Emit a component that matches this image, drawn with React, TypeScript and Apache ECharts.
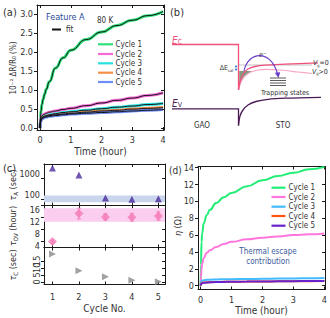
import React, { useEffect, useRef } from 'react';
import * as echarts from 'echarts';

const FONT = "'Liberation Sans Narrow', 'DejaVu Sans Condensed', 'Liberation Sans', sans-serif";
const AX = '#1a1a1a';
const TX = '#333';

// ---------- Panel (a) ----------
const timeA = [0, 0.01, 0.03, 0.06, 0.1, 0.15, 0.2, 0.3, 0.5, 0.75, 1, 1.5, 2, 2.5, 3, 3.5, 4];
const a1 = [0, 0.25, 0.45, 0.62, 0.76, 0.9, 1.02, 1.22, 1.58, 1.85, 2.05, 2.33, 2.53, 2.7, 2.84, 2.96, 3.07];
const a2 = [0, 0.2, 0.28, 0.32, 0.35, 0.37, 0.39, 0.42, 0.45, 0.49, 0.52, 0.59, 0.66, 0.73, 0.79, 0.86, 0.93];
const a3 = [0, 0.15, 0.24, 0.28, 0.3, 0.32, 0.33, 0.35, 0.38, 0.41, 0.43, 0.47, 0.51, 0.55, 0.58, 0.62, 0.65];
const a4 = [0, 0.14, 0.22, 0.26, 0.28, 0.3, 0.31, 0.33, 0.35, 0.37, 0.39, 0.42, 0.45, 0.47, 0.5, 0.52, 0.54];
const a5 = [0, 0.13, 0.2, 0.24, 0.26, 0.28, 0.29, 0.31, 0.33, 0.35, 0.37, 0.39, 0.41, 0.43, 0.45, 0.47, 0.49];
const seriesA = [a1, a2, a3, a4, a5];
const cycleNames = ['Cycle 1', 'Cycle 2', 'Cycle 3', 'Cycle 4', 'Cycle 5'];
const colorsA = ['#2ee07a', '#f46ad6', '#2ae0e0', '#f5904a', '#6f8ef5'];
const xTicksA = [0, 1, 2, 3, 4];
const yTicksA = [0, 0.5, 1, 1.5, 2, 2.5, 3];

// ---------- Panel (c) ----------
const cycles = [1, 2, 3, 4, 5];
const tauA = [3000, 1400, 112, 100, 105];
const bandA = [72, 150];
const tauOV = [4, 13.3, 12.2, 12.1, 12.5];
const tauOVerr = [0.5, 1.8, 1.0, 1.3, 1.4];
const bandOV = [10.6, 15.1];
const tauC = [19.8, 8, 3.6, 1.2, 0.2];
const yTicksOV = [4, 8, 12, 16];
const yTicksC = [0, 5, 10, 15, 20];

// ---------- Panel (d) ----------
const timeD = [0, 0.01, 0.03, 0.05, 0.1, 0.2, 0.3, 0.5, 0.75, 1, 1.5, 2, 2.5, 3, 3.5, 4];
const d1 = [0, 2.5, 5.2, 6.2, 7.4, 8.4, 9.0, 9.8, 10.5, 11.0, 11.8, 12.5, 13.0, 13.4, 13.8, 14.1];
const d2 = [0, 1.0, 2.0, 2.6, 3.3, 3.9, 4.2, 4.6, 4.95, 5.2, 5.5, 5.7, 5.85, 6.0, 6.1, 6.2];
const d3 = [0, 0.4, 0.55, 0.6, 0.65, 0.7, 0.72, 0.75, 0.77, 0.78, 0.8, 0.82, 0.84, 0.86, 0.88, 0.9];
const d4 = [0, 0.2, 0.3, 0.33, 0.37, 0.4, 0.42, 0.44, 0.46, 0.47, 0.49, 0.5, 0.52, 0.53, 0.54, 0.55];
const d5 = [0, 0.15, 0.25, 0.3, 0.34, 0.38, 0.4, 0.43, 0.45, 0.47, 0.49, 0.5, 0.52, 0.54, 0.55, 0.57];
const seriesD = [d1, d2, d3, d4, d5];
const colorsD = ['#22ee77', '#ff77dd', '#44bbff', '#ff5511', '#6622cc'];
const xTicksD = [0, 1, 2, 3, 4];
const yTicksD = [0, 2, 4, 6, 8, 10, 12, 14];

const zip = (xs: number[], ys: number[]) => xs.map((x, i) => [x, ys[i]]);

function xAx(gridIndex: number, min: number, max: number, ticks: number[], o: any = {}) {
  const top = o.position === 'top';
  return {
    type: 'value', gridIndex, min, max, position: o.position || 'bottom',
    axisLine: { show: true, onZero: false, lineStyle: { color: AX, width: 1 } },
    axisTick: { show: true, inside: true, length: 3, customValues: ticks, lineStyle: { color: AX } },
    axisLabel: { show: !top && !o.hideLabel, customValues: ticks, fontSize: 9, fontFamily: FONT, color: TX, margin: o.margin ?? 5 },
    splitLine: { show: false },
    name: o.name, nameLocation: 'middle', nameGap: o.nameGap ?? 16,
    nameTextStyle: { fontSize: 10, fontFamily: FONT, color: TX },
  };
}

function yAx(gridIndex: number, min: number, max: number, ticks: number[] | null, o: any = {}) {
  const right = o.position === 'right';
  const tk: any = ticks ? { customValues: ticks } : {};
  return {
    type: o.type || 'value', gridIndex, min, max, position: o.position || 'left',
    logBase: 10,
    axisLine: { show: true, onZero: false, lineStyle: { color: AX, width: 1 } },
    axisTick: { show: true, inside: right, length: 3, ...tk, lineStyle: { color: AX } },
    axisLabel: { show: !right, ...tk, fontSize: 9, fontFamily: FONT, color: TX, margin: 4, ...(o.label || {}) },
    splitLine: { show: false },
  };
}

const T = (x: number, y: number, text: string, o: any = {}, extra: any = {}) => ({
  type: 'text', x, y, silent: true, z: 50, ...extra,
  style: { text, fontSize: 9, fontFamily: FONT, fill: TX, align: 'left', verticalAlign: 'middle', ...o },
});
const L = (x1: number, y1: number, x2: number, y2: number, stroke: string, lineWidth = 1) => ({
  type: 'line', silent: true, z: 50, shape: { x1, y1, x2, y2 }, style: { stroke, lineWidth },
});
const PL = (points: number[][], stroke: string, lineWidth = 1.3, smooth = 0) => ({
  type: 'polyline', silent: true, z: 50, shape: { points, smooth }, style: { stroke, lineWidth, fill: null },
});
const PG = (points: number[][], fill: string) => ({
  type: 'polygon', silent: true, z: 49, shape: { points }, style: { fill, stroke: null },
});

const richSub = (base: any) => ({
  i: { ...base, fontStyle: 'italic' },
  s: { ...base, fontSize: (base.fontSize || 9) - 3, verticalAlign: 'bottom', padding: [4, 0, 0, 0] },
  n: { ...base },
});

function buildGraphics() {
  const g: any[] = [];
  // panel labels
  g.push(T(3, 12, '(a)', { fontSize: 11 }));
  g.push(T(170, 12, '(b)', { fontSize: 11 }));
  g.push(T(3, 168, '(c)', { fontSize: 11 }));
  g.push(T(169, 170, '(d)', { fontSize: 10 }));

  // (a) annotations
  g.push(T(46, 17, 'Feature A', { fontSize: 9, fill: '#2a4a9a' }));
  g.push(L(52, 29.5, 61, 29.5, '#111', 2));
  g.push(T(66, 29.5, 'fit', { fontSize: 8 }));
  g.push(T(97, 20, '80 K', { fontSize: 8 }));
  const ysA = [44.3, 54, 63.3, 72.7, 82];
  cycleNames.forEach((n, i) => {
    g.push(L(98, ysA[i], 113, ysA[i], colorsA[i], 2.2));
    g.push(T(115.5, ysA[i], n, { fontSize: 8 }));
  });
  g.push(T(13, 68, '10⁻² ΔR/R₀ (%)', { fontSize: 8, align: 'center' }, { rotation: Math.PI / 2 }));

  // (c) axis names
  const bs = { fontSize: 9, fontFamily: FONT, fill: TX };
  const tauName = (y: number, sub: string, unit: string) =>
    T(13, y, `{i|τ}{s|${sub}}{n| (${unit})}`, { align: 'center', rich: richSub(bs) }, { rotation: Math.PI / 2 });
  g.push(tauName(185, 'A', 'sec'));
  g.push(tauName(226, 'OV', 'hour'));
  g.push(tauName(265, 'C', 'sec'));

  // (d)
  g.push(T(178, 226, '{i|η} {n|(Ω)}', { align: 'center', rich: richSub(bs) }, { rotation: Math.PI / 2 }));
  const ysD = [187.7, 197, 206.7, 216, 225.7];
  cycleNames.forEach((n, i) => {
    g.push(L(271.5, ysD[i], 285.5, ysD[i], colorsD[i], 2.2));
    g.push(T(288.5, ysD[i], n, { fontSize: 8 }));
  });
  g.push(T(268, 251.5, 'Thermal escape', { fontSize: 8, fill: '#3a5a9a', align: 'center' }));
  g.push(T(268, 261.5, 'contribution', { fontSize: 8, fill: '#3a5a9a', align: 'center' }));

  // (b) band diagram
  const pink = '#f0507a';
  const purple = '#4b1a55';
  g.push(T(172, 40, '{i|E}{s|C}', { rich: richSub({ fontSize: 10, fontFamily: FONT, fill: pink }) }));
  g.push(PL([[172, 44.5], [238.5, 44.5], [238.5, 90]], pink, 1.3));
  g.push(PG([[239.2, 71], [239.2, 88], [241, 82], [245, 76], [250, 72.3], [253, 71]], '#879a80'));
  g.push(PL([[238.5, 90], [241, 82], [245, 76], [251, 72], [258, 70], [266, 69.3], [280, 70], [298, 72], [312, 73.5]], '#f8a8c4', 1.2, 0.3));
  g.push(L(238.5, 65, 312, 65, '#9a9a9a', 0.6));
  g.push(PL([[238.5, 90], [240.5, 80], [243.5, 73.5], [248, 69], [255, 66.5], [265, 65.2], [285, 64.2], [318, 62.8]], pink, 1.3, 0.3));
  g.push(L(236, 66.5, 236, 69.5, '#3a7ad8', 0.8));
  g.push(PG([[236, 65], [234.6, 67], [237.4, 67]], '#3a7ad8'));
  g.push(PG([[236, 71], [234.6, 69], [237.4, 69]], '#3a7ad8'));
  g.push(T(233.5, 68, '{n|ΔE}{s|sat}', { align: 'right', rich: richSub({ fontSize: 7, fontFamily: FONT, fill: TX }) }));
  g.push({
    type: 'bezierCurve', silent: true, z: 51,
    shape: { x1: 244, y1: 71, cpx1: 248, cpy1: 51, cpx2: 271, cpy2: 49, x2: 277.5, y2: 74 },
    style: { stroke: '#6a3cc8', lineWidth: 1.1, fill: null },
  });
  g.push(PG([[278.5, 78], [274.8, 72.8], [280.2, 72.2]], '#6a3cc8'));
  g.push(T(259, 55, 'e⁻', { fontSize: 7, fontStyle: 'italic' }));
  [78, 80.5, 83, 85.5].forEach((y) => g.push(L(270, y, 286, y, '#333', 0.8)));
  g.push(T(285, 92.5, 'Trapping states', { fontSize: 7, align: 'center' }));
  g.push(T(313, 63, '{i|V}{s|g}{n|=0}', { rich: richSub({ fontSize: 7, fontFamily: FONT, fill: TX }) }));
  g.push(T(312, 71.5, '{i|V}{s|g}{n|>0}', { rich: richSub({ fontSize: 7, fontFamily: FONT, fill: TX }) }));
  g.push(T(172, 103, '{i|E}{s|V}', { rich: richSub({ fontSize: 10, fontFamily: FONT, fill: purple }) }));
  g.push(PL([[172, 108.8], [238.5, 108.8], [238.5, 125.5]], purple, 1.3));
  g.push(PL([[238.5, 125.5], [240, 116], [243, 110], [248, 105], [256, 101.5], [268, 99.3], [285, 98.2], [321, 97.3]], purple, 1.3, 0.3));
  g.push(T(202, 125, 'GAO', { fontSize: 8, align: 'center' }));
  g.push(T(283, 125, 'STO', { fontSize: 8, align: 'center' }));
  return g;
}

function buildOption() {
  const series: any[] = [];
  seriesA.forEach((d, i) => series.push({
    type: 'line', name: cycleNames[i], xAxisIndex: 0, yAxisIndex: 0, data: zip(timeA, d),
    symbol: 'none', smooth: true, smoothMonotone: 'x', lineStyle: { color: colorsA[i], width: 3 }, z: 2,
  }));
  seriesA.forEach((d, i) => series.push({
    type: 'line', name: 'fit ' + cycleNames[i], xAxisIndex: 0, yAxisIndex: 0, data: zip(timeA, d),
    symbol: 'none', smooth: true, smoothMonotone: 'x', lineStyle: { color: '#111', width: 1 }, z: 3,
  }));
  series.push({
    type: 'scatter', xAxisIndex: 2, yAxisIndex: 2, data: zip(cycles, tauA),
    symbol: 'triangle', symbolSize: 7, itemStyle: { color: '#4b2c9c' }, z: 5,
    markArea: { silent: true, itemStyle: { color: '#c9d5ec' }, data: [[{ yAxis: bandA[0] }, { yAxis: bandA[1] }]] },
  });
  series.push({
    type: 'custom', xAxisIndex: 4, yAxisIndex: 4,
    data: cycles.map((c, i) => [c, tauOV[i] - tauOVerr[i], tauOV[i] + tauOVerr[i]]),
    renderItem: (_p: any, api: any) => {
      const a = api.coord([api.value(0), api.value(1)]);
      const b = api.coord([api.value(0), api.value(2)]);
      const st = { stroke: '#f080b8', lineWidth: 1 };
      return {
        type: 'group', children: [
          { type: 'line', shape: { x1: a[0], y1: a[1], x2: b[0], y2: b[1] }, style: st },
          { type: 'line', shape: { x1: a[0] - 2, y1: a[1], x2: a[0] + 2, y2: a[1] }, style: st },
          { type: 'line', shape: { x1: b[0] - 2, y1: b[1], x2: b[0] + 2, y2: b[1] }, style: st },
        ],
      };
    },
    z: 4,
    markArea: { silent: true, itemStyle: { color: '#fbcdee' }, data: [[{ yAxis: bandOV[0] }, { yAxis: bandOV[1] }]] },
  });
  series.push({
    type: 'scatter', xAxisIndex: 4, yAxisIndex: 4, data: zip(cycles, tauOV),
    symbol: 'diamond', symbolSize: 9, itemStyle: { color: '#f57ab6' }, z: 5,
  });
  series.push({
    type: 'scatter', xAxisIndex: 6, yAxisIndex: 6, data: zip(cycles, tauC),
    symbol: 'triangle', symbolRotate: -90, symbolSize: 7, itemStyle: { color: '#8a8a8a' }, z: 5,
  });
  seriesD.forEach((d, i) => series.push({
    type: 'line', name: 'd ' + cycleNames[i], xAxisIndex: 8, yAxisIndex: 8, data: zip(timeD, d),
    symbol: 'none', smooth: true, smoothMonotone: 'x', lineStyle: { color: colorsD[i], width: 2 }, z: 2,
  }));

  const cMin = 0.68, cMax = 5.25;
  return {
    animation: false,
    textStyle: { fontFamily: FONT },
    grid: [
      { left: 37, top: 5, width: 127, height: 125 },
      { left: 44, top: 164, width: 121, height: 41.5 },
      { left: 44, top: 205.5, width: 121, height: 42 },
      { left: 44, top: 247.5, width: 121, height: 37 },
      { left: 198, top: 166.5, width: 127, height: 123 },
    ],
    xAxis: [
      xAx(0, -0.1, 4.03, xTicksA, { name: 'Time (hour)', nameGap: 16, margin: 5 }),
      xAx(0, -0.1, 4.03, xTicksA, { position: 'top' }),
      xAx(1, cMin, cMax, cycles, { hideLabel: true }),
      xAx(1, cMin, cMax, cycles, { position: 'top' }),
      xAx(2, cMin, cMax, cycles, { hideLabel: true }),
      xAx(2, cMin, cMax, cycles, { position: 'top' }),
      xAx(3, cMin, cMax, cycles, { name: 'Cycle No.', nameGap: 19, margin: 8 }),
      xAx(3, cMin, cMax, cycles, { position: 'top' }),
      xAx(4, -0.085, 4.02, xTicksD, { name: 'Time (hour)', nameGap: 15, margin: 6 }),
      xAx(4, -0.085, 4.02, xTicksD, { position: 'top' }),
    ],
    yAxis: [
      yAx(0, -0.05, 3.24, yTicksA, { label: { formatter: (v: number) => v.toFixed(1) } }),
      yAx(0, -0.05, 3.24, yTicksA, { position: 'right' }),
      yAx(1, 50, 4600, null, { type: 'log', label: { showMinLabel: false, showMaxLabel: false, verticalAlign: 'bottom', formatter: (v: number) => String(Math.round(v)) } }),
      yAx(1, 50, 4600, null, { type: 'log', position: 'right' }),
      yAx(2, 2, 16, yTicksOV, { label: { verticalAlign: 'top' } }),
      yAx(2, 2, 16, yTicksOV, { position: 'right' }),
      yAx(3, -1.8, 24.4, yTicksC, { label: { rotate: 90, margin: 3 } }),
      yAx(3, -1.8, 24.4, yTicksC, { position: 'right' }),
      yAx(4, -0.45, 14.14, yTicksD, { label: { margin: 4 } }),
      yAx(4, -0.45, 14.14, yTicksD, { position: 'right' }),
    ],
    series,
    graphic: { elements: buildGraphics() },
  };
}

export default function App() {
  const ref = useRef<HTMLDivElement>(null);
  useEffect(() => {
    if (!ref.current) return;
    const chart = echarts.init(ref.current, null, { renderer: 'svg' });
    chart.setOption(buildOption() as any);
    return () => chart.dispose();
  }, []);
  return <div ref={ref} style={{ position: 'absolute', left: 0, top: 0, width: 330, height: 318, background: '#fff' }} />;
}
